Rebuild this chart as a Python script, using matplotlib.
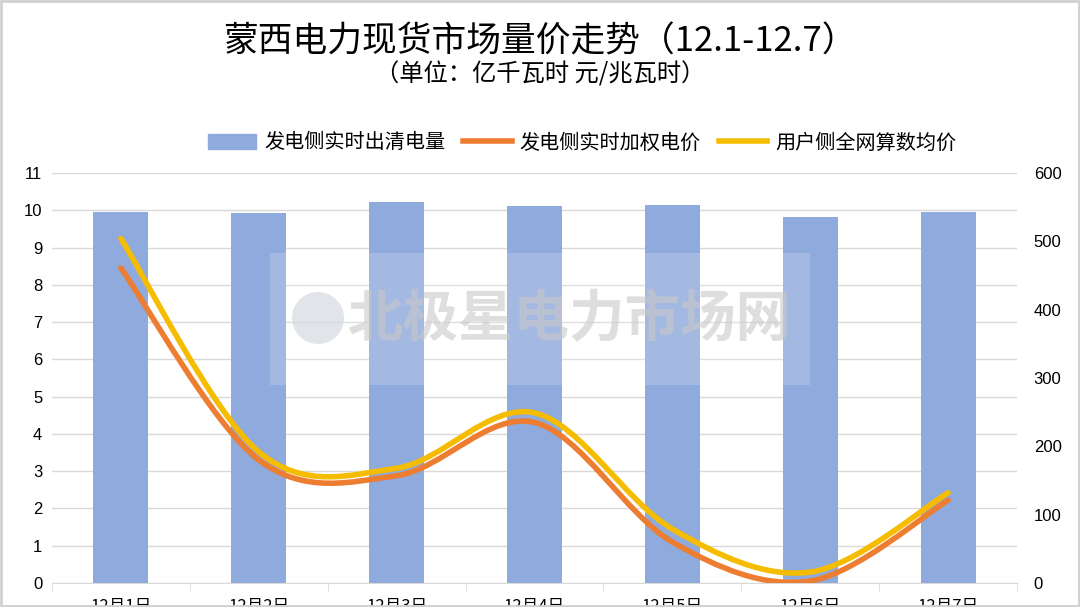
import matplotlib
matplotlib.use("Agg")
import matplotlib.pyplot as plt
import numpy as np
from matplotlib.path import Path
from matplotlib.patches import PathPatch, Rectangle, Ellipse
from matplotlib.lines import Line2D

plt.rcParams['font.family'] = ['Noto Sans CJK SC', 'DejaVu Sans']

days = ['12月1日', '12月2日', '12月3日', '12月4日', '12月5日', '12月6日', '12月7日']
volume = [9.95, 9.93, 10.22, 10.12, 10.14, 9.82, 9.95]          # 亿千瓦时
gen_price = [461, 180, 157, 235, 60, 3, 121]                    # 元/兆瓦时
user_price = [504, 192, 168, 249, 79, 16, 132]

left_ticks = list(range(0, 12))
right_ticks = list(range(0, 700, 100))

bar_color = '#8FAADC'
orange = '#ED7D31'
yellow = '#F5BC00'


def smooth_path(xs, ys):
    # Excel-style smoothed line: cubic bezier through every point
    pts = np.column_stack([xs, ys]).astype(float)
    n = len(pts)
    verts = [pts[0]]
    codes = [Path.MOVETO]
    for i in range(n - 1):
        p_prev = pts[i - 1] if i > 0 else pts[i]
        p_next2 = pts[i + 2] if i + 2 < n else pts[i + 1]
        c1 = pts[i] + (pts[i + 1] - p_prev) / 6.0
        c2 = pts[i + 1] - (p_next2 - pts[i]) / 6.0
        verts += [c1, c2, pts[i + 1]]
        codes += [Path.CURVE4] * 3
    return Path(verts, codes)


fig = plt.figure(figsize=(10.8, 6.07), dpi=100)
ax = fig.add_axes([0.0481, 0.0395, 0.8936, 0.6755])
ax2 = ax.twinx()

x = np.arange(len(days))
ax.bar(x, volume, width=0.4, color=bar_color, zorder=2)
ax.set_xlim(-0.5, len(days) - 0.5)
ax.set_ylim(0, 11)
ax.set_yticks(left_ticks)
ax.grid(axis='y', color='#D9D9D9', linewidth=1, zorder=0)
ax.set_axisbelow(True)

ax2.set_ylim(0, 600)
ax2.set_yticks(right_ticks)

for price, col in [(gen_price, orange), (user_price, yellow)]:
    ax2.add_patch(PathPatch(smooth_path(x, price), facecolor='none',
                            edgecolor=col, linewidth=4, capstyle='round', zorder=3))

for a in (ax, ax2):
    for s in ['top', 'right', 'left', 'bottom']:
        a.spines[s].set_visible(False)
ax.spines['bottom'].set_visible(True)
ax.spines['bottom'].set_color('#D9D9D9')

ax.set_xticks(x)
ax.set_xticklabels(days, fontsize=12)
ax.set_xticks(np.arange(-0.5, len(days), 1), minor=True)
ax.tick_params(axis='x', which='major', length=0, pad=11)
ax.tick_params(axis='x', which='minor', length=6, color='#D9D9D9')
ax.tick_params(axis='y', length=0, pad=7, labelsize=12)
ax2.tick_params(axis='y', length=0, pad=12, labelsize=12)
for lab in ax.get_yticklabels() + ax2.get_yticklabels():
    lab.set_fontfamily('Liberation Sans')

# watermark
fig.patches.append(Rectangle((270 / 1080, 1 - 385 / 607), 540 / 1080, 132 / 607,
                             transform=fig.transFigure, facecolor='white',
                             alpha=0.18, edgecolor='none', zorder=5))
fig.patches.append(Ellipse((318 / 1080, 1 - 318 / 607), 52 / 1080, 52 / 607,
                           transform=fig.transFigure, facecolor='#D5D9E0', alpha=0.7,
                           edgecolor='none', zorder=5))
fig.text(570 / 1080, 1 - 320 / 607, '北极星电力市场网', fontsize=40, fontweight='bold',
         color='#C8C8C8', alpha=0.6, ha='center', va='center', zorder=6)

fig.text(0.5, 1 - 42 / 607, '蒙西电力现货市场量价走势（12.1-12.7）', fontsize=25,
         ha='center', va='center')
fig.text(0.5, 1 - 75 / 607, '（单位：亿千瓦时 元/兆瓦时）', fontsize=17.5,
         ha='center', va='center')

handles = [Rectangle((0, 0), 1, 1, color=bar_color),
           Line2D([0], [0], color=orange, linewidth=4),
           Line2D([0], [0], color=yellow, linewidth=4)]
labels = ['发电侧实时出清电量', '发电侧实时加权电价', '用户侧全网算数均价']
fig.legend(handles, labels, loc='center', bbox_to_anchor=(0.539, 1 - 143 / 607),
           ncol=3, frameon=False, fontsize=14.5, handlelength=2.4, columnspacing=0.9,
           handletextpad=0.4)

fig.patches.append(Rectangle((0.001, 0.001), 0.998, 0.998, transform=fig.transFigure,
                             facecolor='none', edgecolor='#D0D0D0', linewidth=2))

fig.savefig('out.png', dpi=100)
